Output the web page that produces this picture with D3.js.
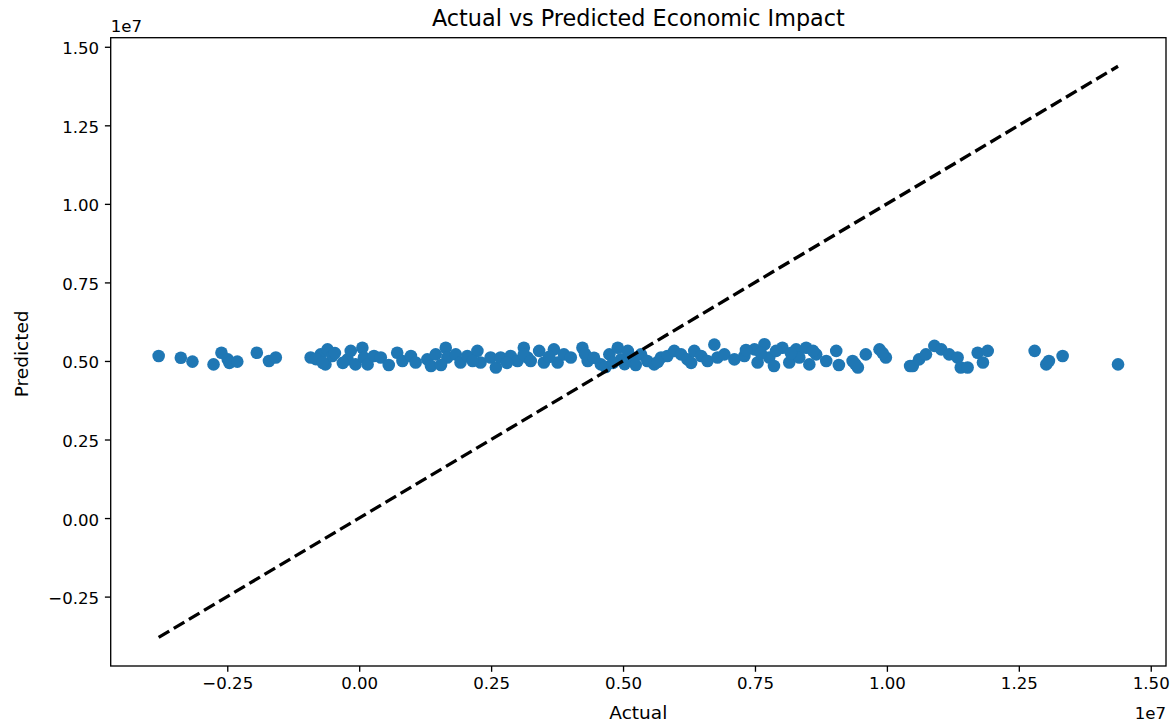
<!DOCTYPE html>
<html>
<head>
<meta charset="utf-8">
<script src="https://cdn.jsdelivr.net/npm/d3@7"></script>
<style>
    body { margin: 0; background: #fff; }
    svg { display: block; font-family: "DejaVu Sans", sans-serif; }
</style>
</head>
<body>
<svg id="chart"></svg>
<script>
// values are in millions (the axes show them in units of 1e7)
const actual = [
    -3.80, -3.38, -3.16, -2.76, -2.61, -2.49, -2.46, -2.31, -1.94, -1.71, -1.58, -0.92, -0.73, -0.60, -0.64, -0.51, -0.82, -0.69,
    -0.46, -0.22, -0.16, -0.07, 0.06, 0.09, 0.16, 0.28, 0.41, 0.72, 0.82, 0.98, 1.07, 1.29, 1.36, 1.45, 1.64, 1.67, 1.83, 1.92,
    2.05, 2.24, 2.30, 2.49, 2.59, 2.68, 2.87, 3.00, 3.12, 3.19, -0.31, 0.56, 1.55, 2.15, 2.80,
    3.12, 3.25, 3.41, 3.50, 3.69, 3.76, 3.88, 4.01, 4.23, 4.33, 4.58, 4.74, 4.90, 4.96, 5.09, 5.18, 5.34, 5.46, 5.59, 5.72,
    5.84, 5.97, 6.10, 6.22, 6.35, 6.48, 6.60, 6.73, 6.79, 4.67, 4.81, 5.03, 5.24, 4.28, 3.60, 4.45, 5.66, 6.29,
    6.92, 7.11, 7.30, 7.49, 7.55, 7.68, 7.77, 7.86, 8.02, 8.15, 8.28, 8.34, 8.47, 8.53, 8.66, 8.85, 9.04, 9.35, 9.45, 9.60,
    9.86, 9.98, 10.44, 7.61, 7.90, 7.33, 8.18, 8.60, 9.09, 9.40, 9.92,
    10.49, 10.61, 10.74, 10.90, 11.03, 11.18, 11.34, 11.40, 11.53, 11.72, 11.82, 11.91, 12.80, 13.02, 13.07, 13.33, 14.38
];
const predicted = [
    5.16, 5.10, 4.98, 4.89, 5.26, 5.05, 4.94, 4.98, 5.26, 5.00, 5.11, 5.11, 5.21, 5.37, 4.89, 5.16, 5.06, 4.94,
    5.25, 5.05, 5.32, 4.89, 5.42, 5.11, 4.89, 5.16, 5.11, 5.26, 5.00, 5.16, 4.95, 5.05, 4.84, 5.21, 5.42, 5.11, 5.21, 4.95,
    5.16, 5.32, 4.95, 5.11, 4.79, 5.11, 5.16, 5.00, 5.42, 5.11, 4.94, 4.87, 4.87, 5.00, 4.94,
    5.21, 5.00, 5.32, 4.95, 5.37, 4.95, 5.21, 5.11, 5.42, 5.00, 4.89, 5.21, 5.42, 5.05, 5.32, 5.11, 5.21, 5.00, 4.89, 5.11,
    5.16, 5.32, 5.21, 5.05, 5.32, 5.16, 5.00, 5.52, 5.11, 4.81, 4.94, 4.90, 4.87, 5.22, 5.13, 5.10, 4.97, 4.94,
    5.21, 5.05, 5.16, 5.37, 4.95, 5.53, 5.11, 4.84, 5.42, 4.95, 5.37, 5.11, 5.42, 4.89, 5.21, 5.00, 5.32, 5.00, 4.79, 5.21,
    5.37, 5.11, 4.84, 5.25, 5.32, 5.35, 5.25, 5.32, 4.87, 4.90, 5.25,
    4.84, 5.05, 5.21, 5.48, 5.37, 5.21, 5.11, 4.79, 4.79, 5.26, 4.95, 5.32, 5.32, 4.89, 5.00, 5.16, 4.89
];
const tickValues = [-0.25, 0.00, 0.25, 0.50, 0.75, 1.00, 1.25, 1.50]; // x 1e7
const titleText = "Actual vs Predicted Economic Impact";

const width = 1175, height = 726;
const margin = {top: 37.7, right: 9, bottom: 60, left: 110.7};
const innerW = width - margin.left - margin.right,
    innerH = height - margin.top - margin.bottom;

const data = actual.map((a, i) => ({x: a * 1e6, y: predicted[i] * 1e6}));
const lo = d3.min(actual) * 1e6, hi = d3.max(actual) * 1e6;
const pad = (hi - lo) * 0.05;

const xScale = d3.scaleLinear().domain([lo - pad, hi + pad]).range([0, innerW]);
const yScale = d3.scaleLinear().domain([lo - pad, hi + pad]).range([innerH, 0]);

const svg = d3.select('#chart')
    .attr('width', width)
    .attr('height', height);

const g = svg.append('g')
    .attr('transform', 'translate(' + margin.left + ',' + margin.top + ')');

const fmt = d3.format('.2f');

// axes
const xAxis = d3.axisBottom(xScale)
    .tickValues(tickValues.map(t => t * 1e7))
    .tickFormat(d => fmt(d / 1e7))
    .tickSize(5.8)
    .tickPadding(5.2);
const yAxis = d3.axisLeft(yScale)
    .tickValues(tickValues.map(t => t * 1e7))
    .tickFormat(d => fmt(d / 1e7))
    .tickSize(5.8)
    .tickPadding(5.8);

const gx = g.append('g').attr('transform', 'translate(0,' + innerH + ')').call(xAxis);
const gy = g.append('g').call(yAxis);
[gx, gy].forEach(ax => {
    ax.select('.domain').remove();
    ax.selectAll('line').attr('stroke', '#000').attr('stroke-width', 1.33);
    ax.selectAll('text')
        .attr('fill', '#000')
        .style('font-size', '16.6px')
        .style('font-family', '"DejaVu Sans", sans-serif');
});
gy.selectAll('text').attr('dy', '0.42em');
gx.selectAll('text').attr('dy', '0.72em');

// scatter
g.append('g')
    .selectAll('circle').data(data)
    .enter().append('circle')
    .attr('cx', d => xScale(d.x))
    .attr('cy', d => yScale(d.y))
    .attr('r', 6.3)
    .attr('fill', '#1f77b4');

// y = x reference line
g.append('line')
    .attr('x1', xScale(lo)).attr('y1', yScale(lo))
    .attr('x2', xScale(hi)).attr('y2', yScale(hi))
    .attr('stroke', '#000')
    .attr('stroke-width', 3.3)
    .attr('stroke-dasharray', '12.3,5.3');

// frame
g.append('rect')
    .attr('width', innerW).attr('height', innerH)
    .attr('fill', 'none')
    .attr('stroke', '#000')
    .attr('stroke-width', 1.33);

// texts
svg.append('text')
    .attr('x', margin.left + innerW / 2).attr('y', 26)
    .attr('text-anchor', 'middle')
    .style('font-size', '22.3px')
    .text(titleText);

svg.append('text')
    .attr('x', margin.left + innerW / 2).attr('y', 719)
    .attr('text-anchor', 'middle')
    .style('font-size', '18.5px')
    .text('Actual');

svg.append('text')
    .attr('transform', 'translate(28,' + (margin.top + innerH / 2 + 2) + ') rotate(-90)')
    .attr('text-anchor', 'middle')
    .style('font-size', '18.5px')
    .text('Predicted');

svg.append('text')
    .attr('x', margin.left).attr('y', 32)
    .style('font-size', '16.6px')
    .text('1e7');

svg.append('text')
    .attr('x', margin.left + innerW).attr('y', 719)
    .attr('text-anchor', 'end')
    .style('font-size', '16.6px')
    .text('1e7');
</script>
</body>
</html>
